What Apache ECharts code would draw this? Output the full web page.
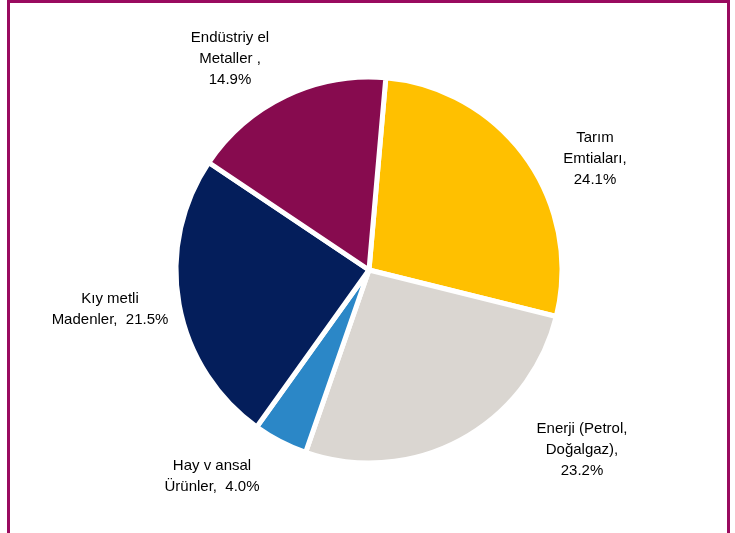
<!DOCTYPE html>
<html>
<head>
<meta charset="utf-8">
<script src="https://cdn.jsdelivr.net/npm/echarts@6/dist/echarts.min.js"></script>
<style>
html,body{margin:0;padding:0;background:#fff;}
#frame{position:absolute;left:7px;top:0;width:717px;height:533px;border-left:3px solid #990a5f;border-right:3px solid #990a5f;border-top:3px solid #990a5f;box-sizing:content-box;}
#chart{position:absolute;left:0;top:0;width:735px;height:533px;}
</style>
</head>
<body>
<div id="chart"></div>
<div id="frame"></div>
<script>
// Data
const categories = ["Tarım\nEmtiaları", "Enerji (Petrol,\nDoğalgaz)", "Hay v ansal\nÜrünler", "Kıy metli\nMadenler", "Endüstriy el\nMetaller"];
const shares = [24.1, 23.2, 4.0, 21.5, 14.9];
const separators = [",\n", ",\n", ",  ", ",  ", " ,\n"];
const colors = ["#FFC000", "#DAD6D1", "#2B87C7", "#041E5B", "#870B4F"];
// label anchor positions (layout/style)
const labelPos = [[595, 159], [582, 450], [212, 476], [110, 309], [230, 59]];

const chart = echarts.init(document.getElementById('chart'), null, {renderer: 'canvas'});
chart.setOption({
  backgroundColor: '#ffffff',
  animation: false,
  series: [{
    type: 'pie',
    center: [369, 270],
    radius: 193,
    startAngle: 85,
    clockwise: true,
    avoidLabelOverlap: false,
    emphasis: {disabled: true},
    itemStyle: {borderColor: '#ffffff', borderWidth: 5},
    label: {
      show: true,
      position: 'outside',
      color: '#000000',
      fontFamily: 'Liberation Sans, Arial, sans-serif',
      fontSize: 15,
      lineHeight: 21,
      align: 'center',
      formatter: function (p) {
        return categories[p.dataIndex] + separators[p.dataIndex] + shares[p.dataIndex].toFixed(1) + '%';
      }
    },
    labelLine: {show: false},
    labelLayout: function (p) {
      const pos = labelPos[p.dataIndex];
      return {x: pos[0], y: pos[1], align: 'center', verticalAlign: 'middle'};
    },
    data: categories.map(function (c, i) {
      return {name: c, value: shares[i], itemStyle: {color: colors[i]}};
    })
  }]
});
</script>
</body>
</html>
